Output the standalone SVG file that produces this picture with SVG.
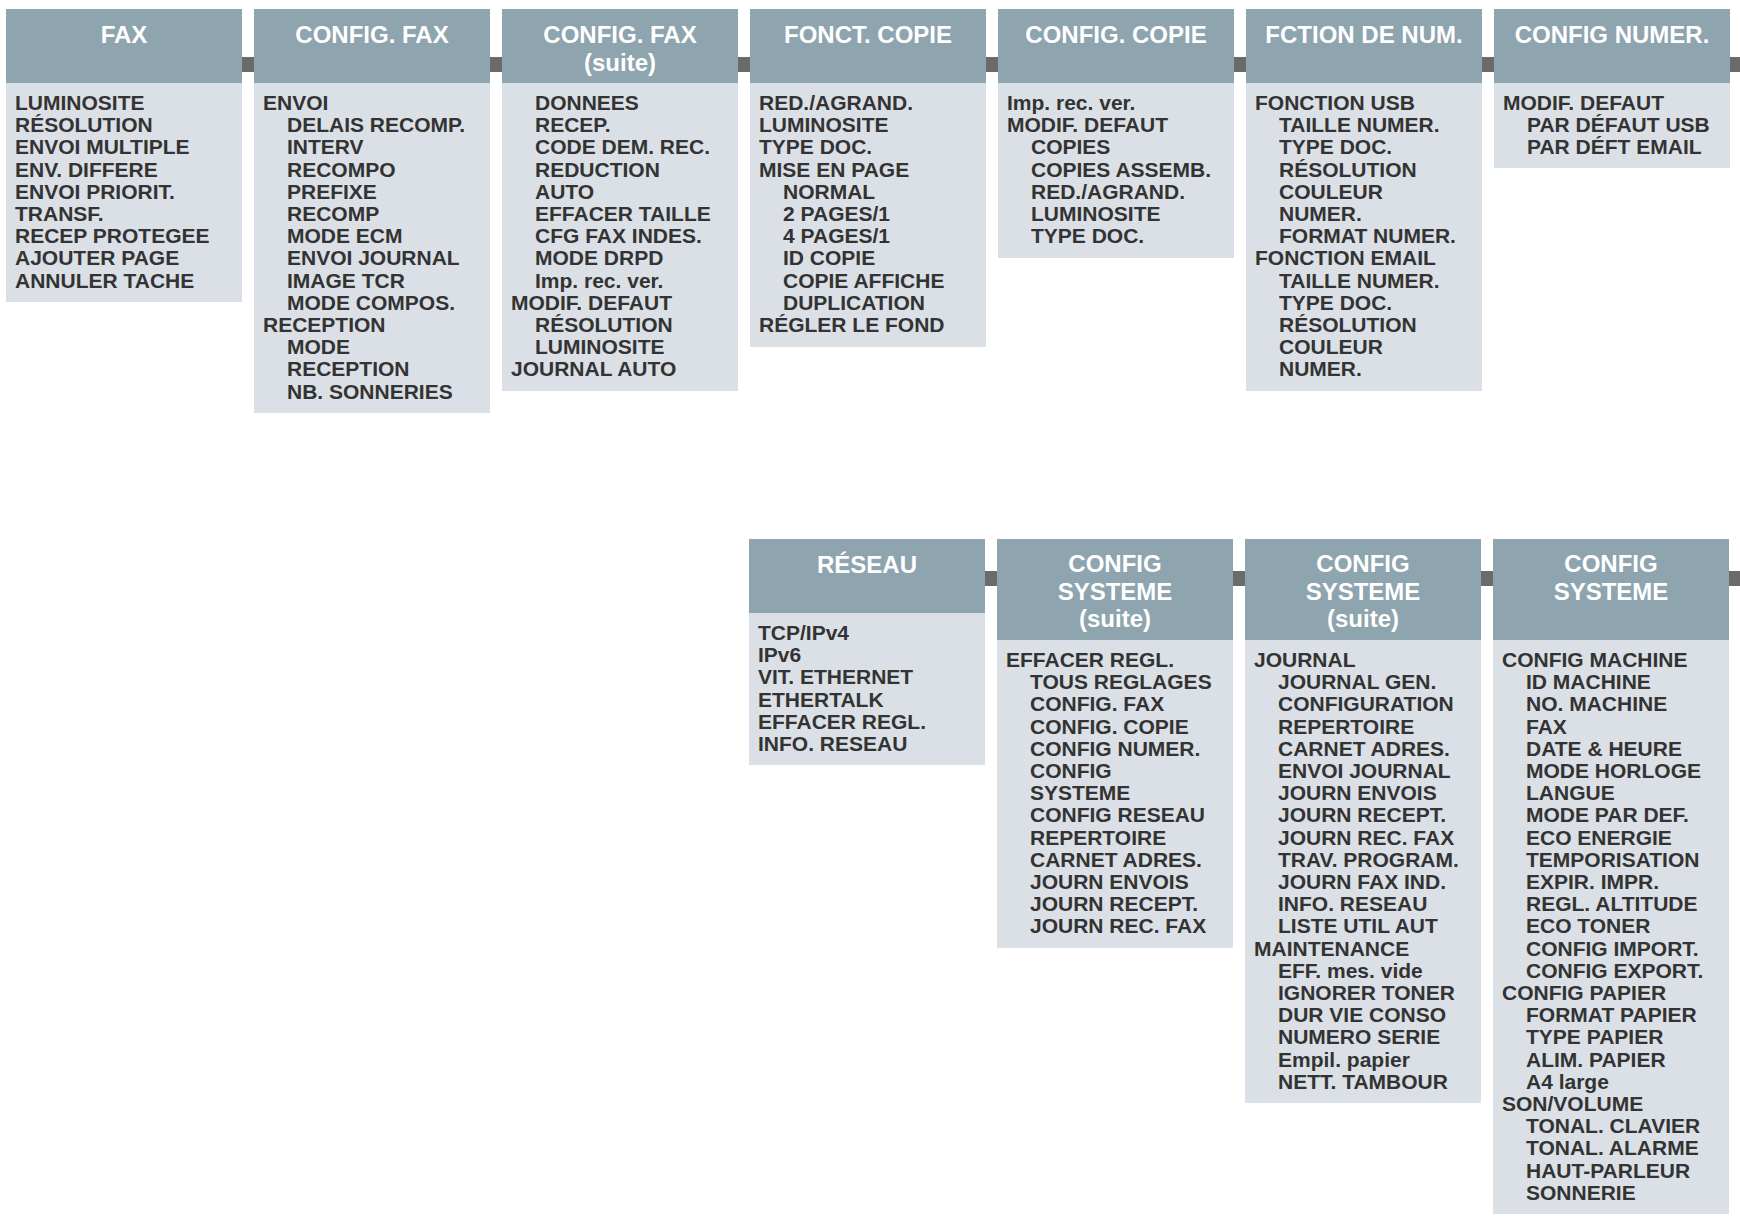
<svg xmlns="http://www.w3.org/2000/svg" width="1740" height="1217" viewBox="0 0 1740 1217">
<style>
.h{fill:#8ea4ae}.bd{fill:#dbe0e6}.c{fill:#6b6b6b}
.ht{font-family:"Liberation Sans",Arial,sans-serif;font-weight:bold;font-size:24px;fill:#fff;text-anchor:middle}
.t{font-family:"Liberation Sans",Arial,sans-serif;font-weight:bold;font-size:21px;fill:#333}
</style>
<rect width="1740" height="1217" fill="#fff"/>
<g id="connectors">
<rect class="c" x="242" y="57" width="12" height="15"/><rect class="c" x="490" y="57" width="12" height="15"/><rect class="c" x="738" y="57" width="12" height="15"/><rect class="c" x="986" y="57" width="12" height="15"/><rect class="c" x="1234" y="57" width="12" height="15"/><rect class="c" x="1482" y="57" width="12" height="15"/><rect class="c" x="1730" y="57" width="10" height="15"/>
<rect class="c" x="985" y="571" width="12" height="15"/><rect class="c" x="1233" y="571" width="12" height="15"/><rect class="c" x="1481" y="571" width="12" height="15"/><rect class="c" x="1729" y="571" width="11" height="15"/>
</g>
<g id="fax"><rect class="bd" x="6" y="83" width="236" height="219"/><rect class="h" x="6" y="9" width="236" height="74"/><text class="ht" x="124" y="43">FAX</text>
<text class="t"><tspan x="15" y="110">LUMINOSITE</tspan><tspan x="15" dy="22.2">RÉSOLUTION</tspan><tspan x="15" dy="22.2">ENVOI MULTIPLE</tspan><tspan x="15" dy="22.2">ENV. DIFFERE</tspan><tspan x="15" dy="22.2">ENVOI PRIORIT.</tspan><tspan x="15" dy="22.2">TRANSF.</tspan><tspan x="15" dy="22.2">RECEP PROTEGEE</tspan><tspan x="15" dy="22.2">AJOUTER PAGE</tspan><tspan x="15" dy="22.2">ANNULER TACHE</tspan></text></g>
<g id="configfax"><rect class="bd" x="254" y="83" width="236" height="330"/><rect class="h" x="254" y="9" width="236" height="74"/><text class="ht" x="372" y="43">CONFIG. FAX</text>
<text class="t"><tspan x="263" y="110">ENVOI</tspan><tspan x="287" dy="22.2">DELAIS RECOMP.</tspan><tspan x="287" dy="22.2">INTERV</tspan><tspan x="287" dy="22.2">RECOMPO</tspan><tspan x="287" dy="22.2">PREFIXE</tspan><tspan x="287" dy="22.2">RECOMP</tspan><tspan x="287" dy="22.2">MODE ECM</tspan><tspan x="287" dy="22.2">ENVOI JOURNAL</tspan><tspan x="287" dy="22.2">IMAGE TCR</tspan><tspan x="287" dy="22.2">MODE COMPOS.</tspan><tspan x="263" dy="22.2">RECEPTION</tspan><tspan x="287" dy="22.2">MODE</tspan><tspan x="287" dy="22.2">RECEPTION</tspan><tspan x="287" dy="22.2">NB. SONNERIES</tspan></text></g>
<g id="configfaxsuite"><rect class="bd" x="502" y="83" width="236" height="308"/><rect class="h" x="502" y="9" width="236" height="74"/><text class="ht" x="620" y="43">CONFIG. FAX</text><text class="ht" x="620" y="71">(suite)</text>
<text class="t"><tspan x="535" y="110">DONNEES</tspan><tspan x="535" dy="22.2">RECEP.</tspan><tspan x="535" dy="22.2">CODE DEM. REC.</tspan><tspan x="535" dy="22.2">REDUCTION</tspan><tspan x="535" dy="22.2">AUTO</tspan><tspan x="535" dy="22.2">EFFACER TAILLE</tspan><tspan x="535" dy="22.2">CFG FAX INDES.</tspan><tspan x="535" dy="22.2">MODE DRPD</tspan><tspan x="535" dy="22.2">Imp. rec. ver.</tspan><tspan x="511" dy="22.2">MODIF. DEFAUT</tspan><tspan x="535" dy="22.2">RÉSOLUTION</tspan><tspan x="535" dy="22.2">LUMINOSITE</tspan><tspan x="511" dy="22.2">JOURNAL AUTO</tspan></text></g>
<g id="fonctcopie"><rect class="bd" x="750" y="83" width="236" height="264"/><rect class="h" x="750" y="9" width="236" height="74"/><text class="ht" x="868" y="43">FONCT. COPIE</text>
<text class="t"><tspan x="759" y="110">RED./AGRAND.</tspan><tspan x="759" dy="22.2">LUMINOSITE</tspan><tspan x="759" dy="22.2">TYPE DOC.</tspan><tspan x="759" dy="22.2">MISE EN PAGE</tspan><tspan x="783" dy="22.2">NORMAL</tspan><tspan x="783" dy="22.2">2 PAGES/1</tspan><tspan x="783" dy="22.2">4 PAGES/1</tspan><tspan x="783" dy="22.2">ID COPIE</tspan><tspan x="783" dy="22.2">COPIE AFFICHE</tspan><tspan x="783" dy="22.2">DUPLICATION</tspan><tspan x="759" dy="22.2">RÉGLER LE FOND</tspan></text></g>
<g id="configcopie"><rect class="bd" x="998" y="83" width="236" height="175"/><rect class="h" x="998" y="9" width="236" height="74"/><text class="ht" x="1116" y="43">CONFIG. COPIE</text>
<text class="t"><tspan x="1007" y="110">Imp. rec. ver.</tspan><tspan x="1007" dy="22.2">MODIF. DEFAUT</tspan><tspan x="1031" dy="22.2">COPIES</tspan><tspan x="1031" dy="22.2">COPIES ASSEMB.</tspan><tspan x="1031" dy="22.2">RED./AGRAND.</tspan><tspan x="1031" dy="22.2">LUMINOSITE</tspan><tspan x="1031" dy="22.2">TYPE DOC.</tspan></text></g>
<g id="fctionnum"><rect class="bd" x="1246" y="83" width="236" height="308"/><rect class="h" x="1246" y="9" width="236" height="74"/><text class="ht" x="1364" y="43">FCTION DE NUM.</text>
<text class="t"><tspan x="1255" y="110">FONCTION USB</tspan><tspan x="1279" dy="22.2">TAILLE NUMER.</tspan><tspan x="1279" dy="22.2">TYPE DOC.</tspan><tspan x="1279" dy="22.2">RÉSOLUTION</tspan><tspan x="1279" dy="22.2">COULEUR</tspan><tspan x="1279" dy="22.2">NUMER.</tspan><tspan x="1279" dy="22.2">FORMAT NUMER.</tspan><tspan x="1255" dy="22.2">FONCTION EMAIL</tspan><tspan x="1279" dy="22.2">TAILLE NUMER.</tspan><tspan x="1279" dy="22.2">TYPE DOC.</tspan><tspan x="1279" dy="22.2">RÉSOLUTION</tspan><tspan x="1279" dy="22.2">COULEUR</tspan><tspan x="1279" dy="22.2">NUMER.</tspan></text></g>
<g id="confignumer"><rect class="bd" x="1494" y="83" width="236" height="85"/><rect class="h" x="1494" y="9" width="236" height="74"/><text class="ht" x="1612" y="43">CONFIG NUMER.</text>
<text class="t"><tspan x="1503" y="110">MODIF. DEFAUT</tspan><tspan x="1527" dy="22.2">PAR DÉFAUT USB</tspan><tspan x="1527" dy="22.2">PAR DÉFT EMAIL</tspan></text></g>
<g id="reseau"><rect class="bd" x="749" y="613" width="236" height="152"/><rect class="h" x="749" y="539" width="236" height="74"/><text class="ht" x="867" y="573">RÉSEAU</text>
<text class="t"><tspan x="758" y="640">TCP/IPv4</tspan><tspan x="758" dy="22.2">IPv6</tspan><tspan x="758" dy="22.2">VIT. ETHERNET</tspan><tspan x="758" dy="22.2">ETHERTALK</tspan><tspan x="758" dy="22.2">EFFACER REGL.</tspan><tspan x="758" dy="22.2">INFO. RESEAU</tspan></text></g>
<g id="configsys1"><rect class="bd" x="997" y="640" width="236" height="308"/><rect class="h" x="997" y="539" width="236" height="101"/><text class="ht" x="1115" y="572">CONFIG</text><text class="ht" x="1115" y="600">SYSTEME</text><text class="ht" x="1115" y="627">(suite)</text>
<text class="t"><tspan x="1006" y="667">EFFACER REGL.</tspan><tspan x="1030" dy="22.2">TOUS REGLAGES</tspan><tspan x="1030" dy="22.2">CONFIG. FAX</tspan><tspan x="1030" dy="22.2">CONFIG. COPIE</tspan><tspan x="1030" dy="22.2">CONFIG NUMER.</tspan><tspan x="1030" dy="22.2">CONFIG</tspan><tspan x="1030" dy="22.2">SYSTEME</tspan><tspan x="1030" dy="22.2">CONFIG RESEAU</tspan><tspan x="1030" dy="22.2">REPERTOIRE</tspan><tspan x="1030" dy="22.2">CARNET ADRES.</tspan><tspan x="1030" dy="22.2">JOURN ENVOIS</tspan><tspan x="1030" dy="22.2">JOURN RECEPT.</tspan><tspan x="1030" dy="22.2">JOURN REC. FAX</tspan></text></g>
<g id="configsys2"><rect class="bd" x="1245" y="640" width="236" height="463"/><rect class="h" x="1245" y="539" width="236" height="101"/><text class="ht" x="1363" y="572">CONFIG</text><text class="ht" x="1363" y="600">SYSTEME</text><text class="ht" x="1363" y="627">(suite)</text>
<text class="t"><tspan x="1254" y="667">JOURNAL</tspan><tspan x="1278" dy="22.2">JOURNAL GEN.</tspan><tspan x="1278" dy="22.2">CONFIGURATION</tspan><tspan x="1278" dy="22.2">REPERTOIRE</tspan><tspan x="1278" dy="22.2">CARNET ADRES.</tspan><tspan x="1278" dy="22.2">ENVOI JOURNAL</tspan><tspan x="1278" dy="22.2">JOURN ENVOIS</tspan><tspan x="1278" dy="22.2">JOURN RECEPT.</tspan><tspan x="1278" dy="22.2">JOURN REC. FAX</tspan><tspan x="1278" dy="22.2">TRAV. PROGRAM.</tspan><tspan x="1278" dy="22.2">JOURN FAX IND.</tspan><tspan x="1278" dy="22.2">INFO. RESEAU</tspan><tspan x="1278" dy="22.2">LISTE UTIL AUT</tspan><tspan x="1254" dy="22.2">MAINTENANCE</tspan><tspan x="1278" dy="22.2">EFF. mes. vide</tspan><tspan x="1278" dy="22.2">IGNORER TONER</tspan><tspan x="1278" dy="22.2">DUR VIE CONSO</tspan><tspan x="1278" dy="22.2">NUMERO SERIE</tspan><tspan x="1278" dy="22.2">Empil. papier</tspan><tspan x="1278" dy="22.2">NETT. TAMBOUR</tspan></text></g>
<g id="configsys3"><rect class="bd" x="1493" y="640" width="236" height="574"/><rect class="h" x="1493" y="539" width="236" height="101"/><text class="ht" x="1611" y="572">CONFIG</text><text class="ht" x="1611" y="600">SYSTEME</text>
<text class="t"><tspan x="1502" y="667">CONFIG MACHINE</tspan><tspan x="1526" dy="22.2">ID MACHINE</tspan><tspan x="1526" dy="22.2">NO. MACHINE</tspan><tspan x="1526" dy="22.2">FAX</tspan><tspan x="1526" dy="22.2">DATE &amp; HEURE</tspan><tspan x="1526" dy="22.2">MODE HORLOGE</tspan><tspan x="1526" dy="22.2">LANGUE</tspan><tspan x="1526" dy="22.2">MODE PAR DEF.</tspan><tspan x="1526" dy="22.2">ECO ENERGIE</tspan><tspan x="1526" dy="22.2">TEMPORISATION</tspan><tspan x="1526" dy="22.2">EXPIR. IMPR.</tspan><tspan x="1526" dy="22.2">REGL. ALTITUDE</tspan><tspan x="1526" dy="22.2">ECO TONER</tspan><tspan x="1526" dy="22.2">CONFIG IMPORT.</tspan><tspan x="1526" dy="22.2">CONFIG EXPORT.</tspan><tspan x="1502" dy="22.2">CONFIG PAPIER</tspan><tspan x="1526" dy="22.2">FORMAT PAPIER</tspan><tspan x="1526" dy="22.2">TYPE PAPIER</tspan><tspan x="1526" dy="22.2">ALIM. PAPIER</tspan><tspan x="1526" dy="22.2">A4 large</tspan><tspan x="1502" dy="22.2">SON/VOLUME</tspan><tspan x="1526" dy="22.2">TONAL. CLAVIER</tspan><tspan x="1526" dy="22.2">TONAL. ALARME</tspan><tspan x="1526" dy="22.2">HAUT-PARLEUR</tspan><tspan x="1526" dy="22.2">SONNERIE</tspan></text></g>
</svg>
